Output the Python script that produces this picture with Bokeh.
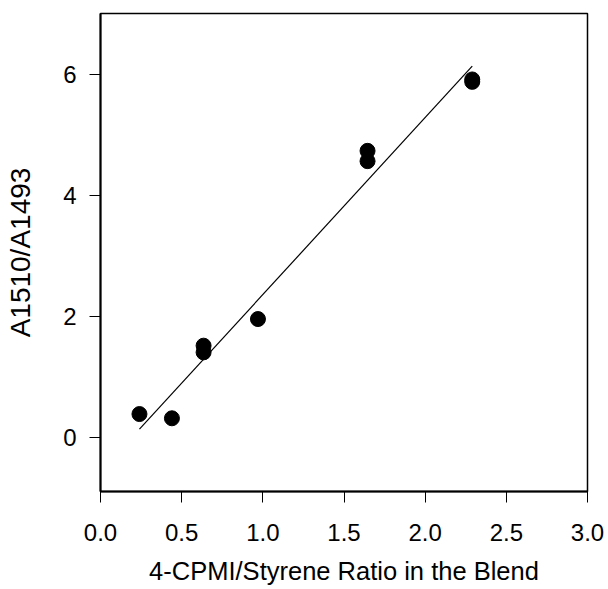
from bokeh.plotting import figure
from bokeh.models import ColumnDataSource, FixedTicker, Range1d, NumeralTickFormatter
from bokeh.embed import file_html
from bokeh.resources import INLINE

# data
ratio = [0.24, 0.44, 0.635, 0.635, 0.97, 1.645, 1.645, 2.29, 2.29]
absorb = [0.38, 0.31, 1.40, 1.51, 1.95, 4.56, 4.73, 5.87, 5.91]
fit_x = [0.24, 2.29]
fit_y = [0.13, 6.13]
x_ticks = [0.0, 0.5, 1.0, 1.5, 2.0, 2.5, 3.0]
y_ticks = [0, 2, 4, 6]

FONT = "Liberation Sans"

p = figure(width=608, height=589,
           x_range=Range1d(0, 3.0), y_range=Range1d(-0.9, 7.0),
           output_backend="svg", toolbar_location=None,
           min_border_left=100, min_border_right=21,
           min_border_top=13, min_border_bottom=98)

p.background_fill_color = "white"
p.border_fill_color = "white"
p.grid.visible = False
p.outline_line_color = "black"
p.outline_line_width = 1.5

src = ColumnDataSource(dict(x=ratio, y=absorb))
p.line(fit_x, fit_y, line_color="black", line_width=1.2)
p.scatter("x", "y", source=src, size=15, fill_color="black", line_color="black")

for ax in (p.xaxis[0], p.yaxis[0]):
    ax.axis_line_width = 2
    ax.axis_line_color = "black"
    ax.major_tick_line_color = "black"
    ax.major_tick_line_width = 1
    ax.major_tick_in = 0
    ax.major_tick_out = 11
    ax.minor_tick_line_color = None
    ax.major_label_text_font = FONT
    ax.major_label_text_font_size = "24px"
    ax.major_label_text_color = "black"
    ax.axis_label_text_font = FONT
    ax.axis_label_text_font_style = "normal"
    ax.axis_label_text_color = "black"

p.xaxis[0].ticker = FixedTicker(ticks=x_ticks)
p.xaxis[0].formatter = NumeralTickFormatter(format="0.0")
p.xaxis[0].major_label_standoff = 21
p.xaxis[0].axis_label = "4-CPMI/Styrene Ratio in the Blend"
p.xaxis[0].axis_label_text_font_size = "25.5px"
p.xaxis[0].axis_label_standoff = 13

p.yaxis[0].ticker = FixedTicker(ticks=y_ticks)
p.yaxis[0].formatter = NumeralTickFormatter(format="0")
p.yaxis[0].major_label_standoff = 13
p.yaxis[0].axis_label = "A1510/A1493"
p.yaxis[0].axis_label_text_font_size = "28px"
p.yaxis[0].axis_label_standoff = 24

open("out.html", "w").write(file_html(p, INLINE))
